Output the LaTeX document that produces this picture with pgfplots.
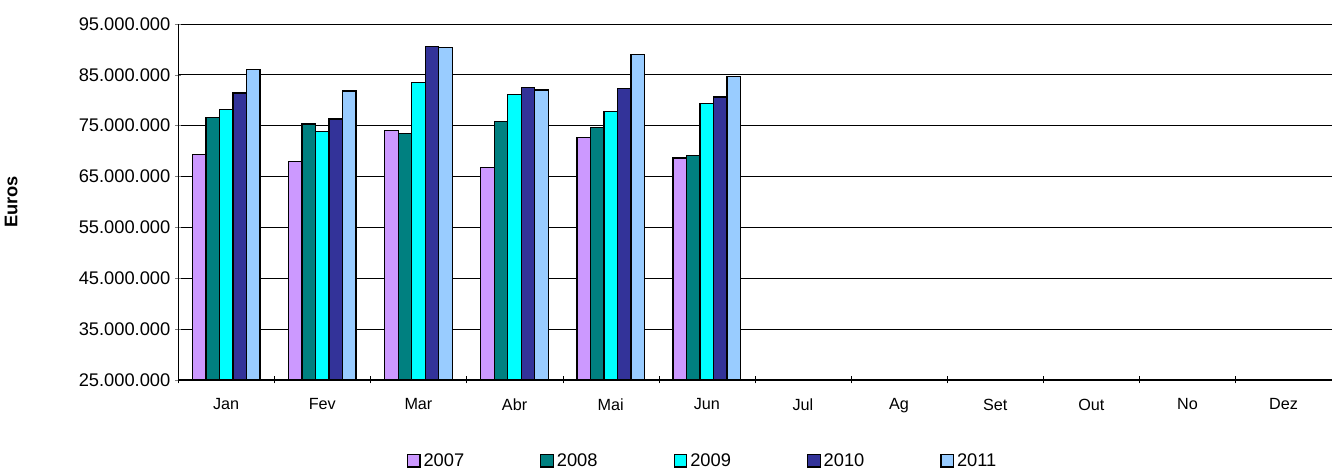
\documentclass[border=0pt]{standalone}
\usepackage{pgfplots}
\pgfplotsset{compat=1.18}
\usepackage{fontspec}
\setmainfont{Liberation Sans}
\definecolor{c07}{HTML}{CC99FF}
\definecolor{c08}{HTML}{008080}
\definecolor{c09}{HTML}{00FFFF}
\definecolor{c10}{HTML}{333399}
\definecolor{c11}{HTML}{99CCFF}
\begin{document}
\begin{tikzpicture}
\begin{axis}[
  name=ax,
  scale only axis, width=820pt, height=253pt,
  ybar=0pt, bar width=9.6pt,
  xmin=-0.5, xmax=11.5, ymin=25000000, ymax=95000000,
  ytick={25000000,35000000,...,95000000},
  scaled y ticks=false,
  /pgf/number format/assume math mode=true,
  yticklabel style={font=\fontsize{13}{15}\selectfont, /pgf/number format/.cd,fixed,1000 sep={.}},
  xtick={0,...,11}, xticklabels={Jan,Fev,Mar,Abr,Mai,Jun,Jul,Ag,Set,Out,No,Dez},
  major x tick style={draw=none},
  minor xtick={-0.5,0.5,...,11.5},
  minor x tick style={draw=black},
  minor tick length=5pt,
  tick align=outside,
  axis lines=left, axis line style={-},
  ymajorgrids, grid style={black, line width=0.5pt},
  major tick length=4pt,
  xticklabel style={yshift=-8pt, font=\fontsize{11.5}{13}\selectfont},
  ylabel={\bfseries Euros}, ylabel style={font=\fontsize{13}{15}\selectfont, at={(axis description cs:-0.135,0.5)}},
  legend style={at={(0.455,-0.19)}, anchor=north, draw=none, legend columns=5,
    font=\fontsize{13}{15}\selectfont,
    /tikz/every even column/.append style={column sep=52pt}},
  legend image code/.code={\draw[#1,draw=black] (0pt,-4.5pt) rectangle (9pt,4.5pt);},
  every axis plot/.append style={draw=black, line width=0.9pt},
]
\addplot[fill=c07] coordinates {(0,69.3e6)(1,68e6)(2,74e6)(3,66.8e6)(4,72.6e6)(5,68.6e6)};
\addplot[fill=c08] coordinates {(0,76.6e6)(1,75.3e6)(2,73.5e6)(3,75.8e6)(4,74.6e6)(5,69.1e6)};
\addplot[fill=c09] coordinates {(0,78.1e6)(1,73.8e6)(2,83.5e6)(3,81.1e6)(4,77.7e6)(5,79.3e6)};
\addplot[fill=c10] coordinates {(0,81.4e6)(1,76.3e6)(2,90.6e6)(3,82.5e6)(4,82.3e6)(5,80.6e6)};
\addplot[fill=c11] coordinates {(0,86.1e6)(1,81.8e6)(2,90.3e6)(3,82e6)(4,89e6)(5,84.6e6)};
\legend{2007,2008,2009,2010,2011}
\end{axis}
\path ([yshift=17pt]ax.north);
\end{tikzpicture}
\end{document}
